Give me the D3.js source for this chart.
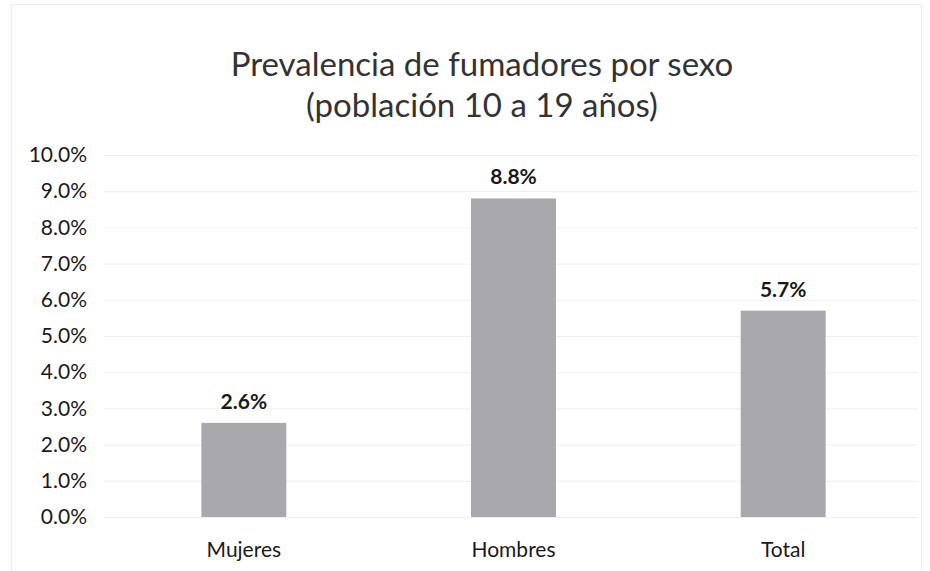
<!DOCTYPE html>
<html>
<head>
    <meta charset="utf-8">
    <title>Prevalencia de fumadores por sexo</title>
    <script src="https://d3js.org/d3.v7.min.js"></script>
    <style>
        body { margin: 0; background: #fff; }
        text { font-family: Lato, "Open Sans", sans-serif; }
    </style>
</head>
<body>
    <script>
        var width = 930, height = 571;

        // data
        var categories = ["Mujeres", "Hombres", "Total"];
        var values = [2.6, 8.8, 5.7];
        var yTicks = [0, 1, 2, 3, 4, 5, 6, 7, 8, 9, 10];
        var titleLines = ["Prevalencia de fumadores por sexo", "(población 10 a 19 años)"];

        var plot = { left: 109, right: 918, top: 155, bottom: 517 };

        var svg = d3.select("body").append("svg")
            .attr("width", width)
            .attr("height", height);

        // chart border
        svg.append("rect")
            .attr("x", 11.5).attr("y", 4.5)
            .attr("width", width - 20).attr("height", height - 4)
            .attr("fill", "none")
            .attr("stroke", "#ececec");

        var x = d3.scaleBand()
            .domain(categories)
            .range([plot.left, plot.right])
            .paddingInner(0.685)
            .paddingOuter(0.3425);

        var y = d3.scaleLinear()
            .domain([0, 10])
            .range([plot.bottom, plot.top]);

        // gridlines
        svg.append("g")
            .selectAll("line")
            .data(yTicks)
            .enter()
            .append("line")
            .attr("x1", 104).attr("x2", plot.right)
            .attr("y1", function (d) { return y(d) + 0.5; })
            .attr("y2", function (d) { return y(d) + 0.5; })
            .attr("stroke", "#efefef");

        // y axis labels
        var yAxis = d3.axisLeft(y)
            .tickValues(yTicks)
            .tickSize(0)
            .tickPadding(0)
            .tickFormat(function (d) { return d.toFixed(1) + "%"; });

        var yg = svg.append("g")
            .attr("transform", "translate(87,0)")
            .call(yAxis);
        yg.select(".domain").remove();
        yg.selectAll("text")
            .attr("font-size", 21)
            .attr("fill", "#1a1a1a")
            .style("font-family", "Lato, sans-serif");

        // x axis labels
        var xAxis = d3.axisBottom(x).tickSize(0).tickPadding(0);
        var xg = svg.append("g")
            .attr("transform", "translate(0,542)")
            .call(xAxis);
        xg.select(".domain").remove();
        xg.selectAll("text")
            .attr("font-size", 21)
            .attr("fill", "#1a1a1a")
            .style("font-family", "Lato, sans-serif");

        // bars
        svg.selectAll("rect.bar")
            .data(values)
            .enter()
            .append("rect")
            .attr("class", "bar")
            .attr("x", function (d, i) { return x(categories[i]); })
            .attr("y", function (d) { return y(d); })
            .attr("width", x.bandwidth())
            .attr("height", function (d) { return y(0) - y(d); })
            .attr("fill", "#a9a8ad");

        // value labels
        svg.selectAll("text.val")
            .data(values)
            .enter()
            .append("text")
            .attr("class", "val")
            .attr("x", function (d, i) { return x(categories[i]) + x.bandwidth() / 2; })
            .attr("y", function (d) { return y(d) - 14; })
            .attr("text-anchor", "middle")
            .attr("font-size", 21)
            .attr("font-weight", 700)
            .attr("fill", "#1a1a1a")
            .text(function (d) { return d.toFixed(1) + "%"; });

        // title
        svg.selectAll("text.title")
            .data(titleLines)
            .enter()
            .append("text")
            .attr("class", "title")
            .attr("x", 482)
            .attr("y", function (d, i) { return 76 + i * 41; })
            .attr("text-anchor", "middle")
            .attr("font-size", 33)
            .attr("fill", "#333")
            .text(function (d) { return d; });
    </script>
</body>
</html>
